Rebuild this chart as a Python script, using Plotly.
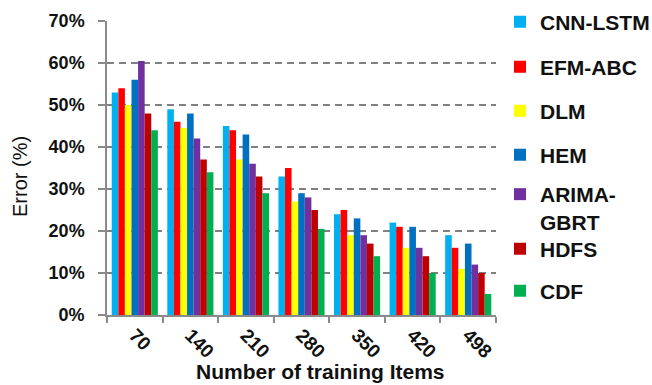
import plotly.graph_objects as go

categories = ["70", "140", "210", "280", "350", "420", "498"]
series_names = ["CNN-LSTM", "EFM-ABC", "DLM", "HEM", "ARIMA-<br>GBRT", "HDFS", "CDF"]
cnn_lstm = [53, 49, 45, 33, 24, 22, 19]
efm_abc = [54, 46, 44, 35, 25, 21, 16]
dlm = [50, 44.5, 37, 27, 19, 16, 11]
hem = [56, 48, 43, 29, 23, 21, 17]
arima_gbrt = [60.5, 42, 36, 28, 19, 16, 12]
hdfs = [48, 37, 33, 25, 17, 14, 10]
cdf = [44, 34, 29, 20.5, 14, 10, 5]
colors = ["#00B0F0", "#FF0000", "#FFFF00", "#0070C0", "#7030A0", "#C00000", "#00B050"]

values = [cnn_lstm, efm_abc, dlm, hem, arima_gbrt, hdfs, cdf]
legend_ids = ["legend", "legend2", "legend3", "legend4", "legend5", "legend6", "legend7"]
legend_centers_px = [22, 67, 111, 155, 208, 249, 291]

W, H = 652, 385
font_family = "Liberation Sans, Arial, sans-serif"

fig = go.Figure()
for i, (name, vals) in enumerate(zip(series_names, values)):
    fig.add_trace(go.Bar(
        x=categories, y=vals, name=name,
        marker=dict(color=colors[i], line=dict(width=0)),
        legend=legend_ids[i], showlegend=True,
    ))

legend_layout = {}
for lid, cy in zip(legend_ids, legend_centers_px):
    legend_layout[lid] = dict(
        font=dict(family=font_family, size=21, color="#111", weight="bold"),
        bgcolor="rgba(0,0,0,0)", borderwidth=0, valign="top",
        xref="container", yref="container",
        x=500 / W, y=1 - cy / H, xanchor="left", yanchor="middle",
    )

fig.update_layout(
    width=W, height=H, showlegend=True,
    margin=dict(l=107, r=156, t=21, b=70, autoexpand=False),
    paper_bgcolor="white", plot_bgcolor="white",
    barmode="group", bargap=0.17, bargroupgap=0,
    font=dict(family=font_family, color="#111"),
    xaxis=dict(
        type="category", showline=True, linecolor="#8a8a8a", linewidth=1.5,
        ticks="outside", tickson="boundaries", ticklen=6, tickcolor="#8a8a8a", tickwidth=1.5,
        tickangle=45, showgrid=False,
        tickfont=dict(family=font_family, size=19, color="#111", weight="bold"),
    ),
    yaxis=dict(
        range=[0, 70], dtick=10, ticksuffix="%\u00a0\u00a0",
        showline=True, linecolor="#8a8a8a", linewidth=1.5,
        ticks="outside", ticklen=7, tickcolor="#8a8a8a", tickwidth=1.5,
        showgrid=True, gridcolor="#808080", gridwidth=1.5, griddash="7px,5px",
        zeroline=False,
        tickfont=dict(family=font_family, size=18, color="#111", weight="bold"),
    ),
    annotations=[
        dict(text="Number of training Items", xref="paper", yref="paper",
             x=(320 - 107) / 389, y=(315 - 372) / 294, xanchor="center", yanchor="middle",
             showarrow=False, font=dict(family=font_family, size=21, color="#111", weight="bold")),
        dict(text="Error (%)", xref="paper", yref="paper",
             x=(20 - 107) / 389, y=(315 - 177) / 294, xanchor="center", yanchor="middle",
             textangle=-90, showarrow=False,
             font=dict(family=font_family, size=20, color="#111")),
    ],
)
fig.update_layout(**legend_layout)

fig.write_html("out.html")
